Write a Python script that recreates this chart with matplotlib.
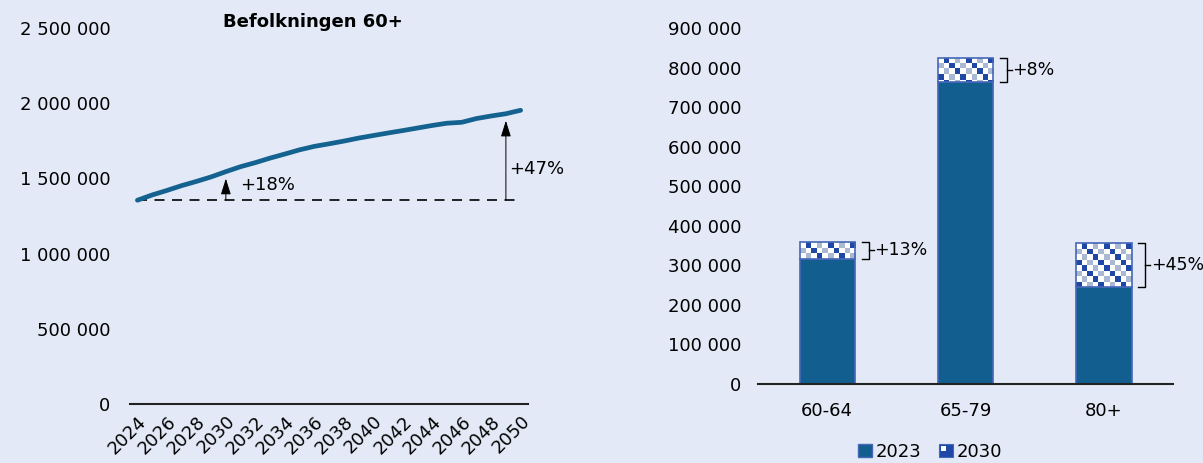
"""Befolkningen 60+: fremskrivning og aldersgrupper 2023/2030."""

import matplotlib

matplotlib.use('Agg')
import matplotlib.pyplot as plt  # noqa: E402
import numpy as np  # noqa: E402
from matplotlib.legend_handler import HandlerBase  # noqa: E402
from matplotlib.patches import Patch, Rectangle  # noqa: E402
from matplotlib.ticker import FuncFormatter  # noqa: E402

# Data
aar = list(range(2024, 2051))
befolkning_60 = [
    1355000, 1390000, 1420000, 1452000, 1480000, 1510000, 1545000,
    1578000, 1605000, 1635000, 1662000, 1690000, 1713000, 1730000,
    1748000, 1768000, 1785000, 1802000, 1818000, 1835000, 1852000,
    1867000, 1873000, 1898000, 1915000, 1930000, 1953000,
]
pil_aar = [2030, 2049]
pil_tekst = ['+18%', '+47%']

grupper = ['60-64', '65-79', '80+']
ant_2023 = [317000, 763000, 246000]
ant_2030 = [359000, 824000, 357000]
endring_tekst = ['+13%', '+8%', '+45%']

# Farger
BG = '#E3E9F6'
COR_LINJE = '#14628F'
COR_BAR = '#125E8F'
COR_KANT = '#4467B8'
COR_MORK = '#1E47A6'
COR_LYS = '#AAB8D2'

plt.rcParams['font.family'] = ['DejaVu Sans']
plt.rcParams['font.size'] = 13


def fmt_mellomrom(v, _pos=None):
    return f'{int(v):,}'.replace(',', ' ')


def rutemonster(ny, nx):
    img = np.ones((ny, nx, 3))
    mork = np.array(matplotlib.colors.to_rgb(COR_MORK))
    lys = np.array(matplotlib.colors.to_rgb(COR_LYS))
    for i in range(ny):
        for j in range(nx):
            if (i + j) % 2 == 1:
                img[i, j] = mork if (j - i) % 4 == 1 else lys
    return img


class HandlerRute(HandlerBase):
    def create_artists(self, legend, orig_handle, xdescent, ydescent,
                       width, height, fontsize, trans):
        s = height
        x0 = -xdescent + (width - s)
        y0 = -ydescent
        blaa = Rectangle((x0, y0), s, s, facecolor=COR_MORK,
                         edgecolor=COR_KANT, lw=0.8, transform=trans)
        hvit = Rectangle((x0 + 0.15 * s, y0 + 0.5 * s), 0.35 * s, 0.35 * s,
                         facecolor='white', edgecolor='none', transform=trans)
        return [blaa, hvit]


fig = plt.figure(figsize=(12.03, 4.63), dpi=100, facecolor=BG)

# Venstre: linje
ax1 = fig.add_axes([0.1081, 0.1274, 0.3308, 0.8121], facecolor=BG)
ax1.plot(aar, befolkning_60, color=COR_LINJE, lw=3.4, solid_capstyle='round',
         zorder=3)
base = befolkning_60[0]
ax1.plot([aar[0], aar[-1]], [base, base], color='black', lw=1.2,
         dashes=(6, 4.5), zorder=2)
for a, t in zip(pil_aar, pil_tekst):
    v = befolkning_60[aar.index(a)]
    ax1.annotate('', xy=(a, v), xytext=(a, base),
                 arrowprops=dict(arrowstyle='-|>,head_width=0.22,head_length=0.7',
                                 color='black', lw=0.7, shrinkA=0, shrinkB=5,
                                 mutation_scale=14))
ax1.text(pil_aar[0] + 1.0, base + 100000, pil_tekst[0], ha='left',
         va='center', fontsize=13)
ax1.text(pil_aar[1] + 0.2, base + 210000, pil_tekst[1], ha='left',
         va='center', fontsize=13)

ax1.set_xlim(2023.5, 2050.5)
ax1.set_ylim(0, 2500000)
ax1.set_yticks(range(0, 2500001, 500000))
ax1.yaxis.set_major_formatter(FuncFormatter(fmt_mellomrom))
ax1.set_xticks(aar[::2])
ax1.set_xticklabels([str(a) for a in aar[::2]], rotation=45, ha='right',
                    rotation_mode='anchor')
ax1.tick_params(axis='y', length=0, pad=14)
ax1.tick_params(axis='x', length=0, pad=6)
for s in ['top', 'right', 'left']:
    ax1.spines[s].set_visible(False)
ax1.spines['bottom'].set_color('#222222')
ax1.spines['bottom'].set_linewidth(1.5)
fig.text(0.26, 0.952, 'Befolkningen 60+', ha='center', va='center',
         fontsize=13, fontweight='bold')

# Høyre: stolper
ax2 = fig.add_axes([0.6301, 0.1706, 0.345, 0.7689], facecolor=BG)
x = np.arange(len(grupper))
b = 0.4
ax2.bar(x, ant_2023, b, color=COR_BAR, edgecolor=COR_KANT, lw=1.2, zorder=2)
okning = [n - g for n, g in zip(ant_2030, ant_2023)]
topper = ax2.bar(x, okning, b, bottom=ant_2023, facecolor='none',
                 edgecolor=COR_KANT, lw=1.2, zorder=3)
monster = rutemonster(30, 10)
for rect in topper:
    x0, y0 = rect.get_x(), rect.get_y()
    w, h = rect.get_width(), rect.get_height()
    im = ax2.imshow(monster, extent=(x0, x0 + w, y0 + h - 30 * 14000, y0 + h),
                    aspect='auto', interpolation='nearest', zorder=2.5)
    im.set_clip_path(rect)

for i, (lo, hi, t) in enumerate(zip(ant_2023, ant_2030, endring_tekst)):
    xa, xb, xc = i + 0.25, i + 0.3, i + 0.335
    ax2.plot([xa, xb, xb, xa], [hi, hi, lo, lo], color='black', lw=1.0,
             zorder=4, clip_on=False)
    mid = (lo + hi) / 2
    ax2.plot([xb, xc], [mid, mid], color='black', lw=1.0, clip_on=False)
    ax2.text(i + 0.34, mid, t, ha='left', va='center', fontsize=12.5)

ax2.set_xlim(-0.5, 2.5)
ax2.set_ylim(0, 900000)
ax2.set_yticks(range(0, 900001, 100000))
ax2.yaxis.set_major_formatter(FuncFormatter(fmt_mellomrom))
ax2.set_xticks(x)
ax2.set_xticklabels(grupper)
ax2.tick_params(axis='y', length=0, pad=12)
ax2.tick_params(axis='x', length=0, pad=13)
for s in ['top', 'right', 'left']:
    ax2.spines[s].set_visible(False)
ax2.spines['bottom'].set_color('#222222')
ax2.spines['bottom'].set_linewidth(1.5)

handles = [Patch(facecolor=COR_BAR, edgecolor=COR_KANT), Patch()]
fig.legend(handles, ['2023', '2030'], loc='center', bbox_to_anchor=(0.773, 0.024),
           ncol=2, frameon=False, handlelength=0.75, handleheight=0.75,
           handletextpad=0.2, columnspacing=1.0, fontsize=13,
           handler_map={handles[1]: HandlerRute()})

fig.savefig('out.png', dpi=100, facecolor=BG)
